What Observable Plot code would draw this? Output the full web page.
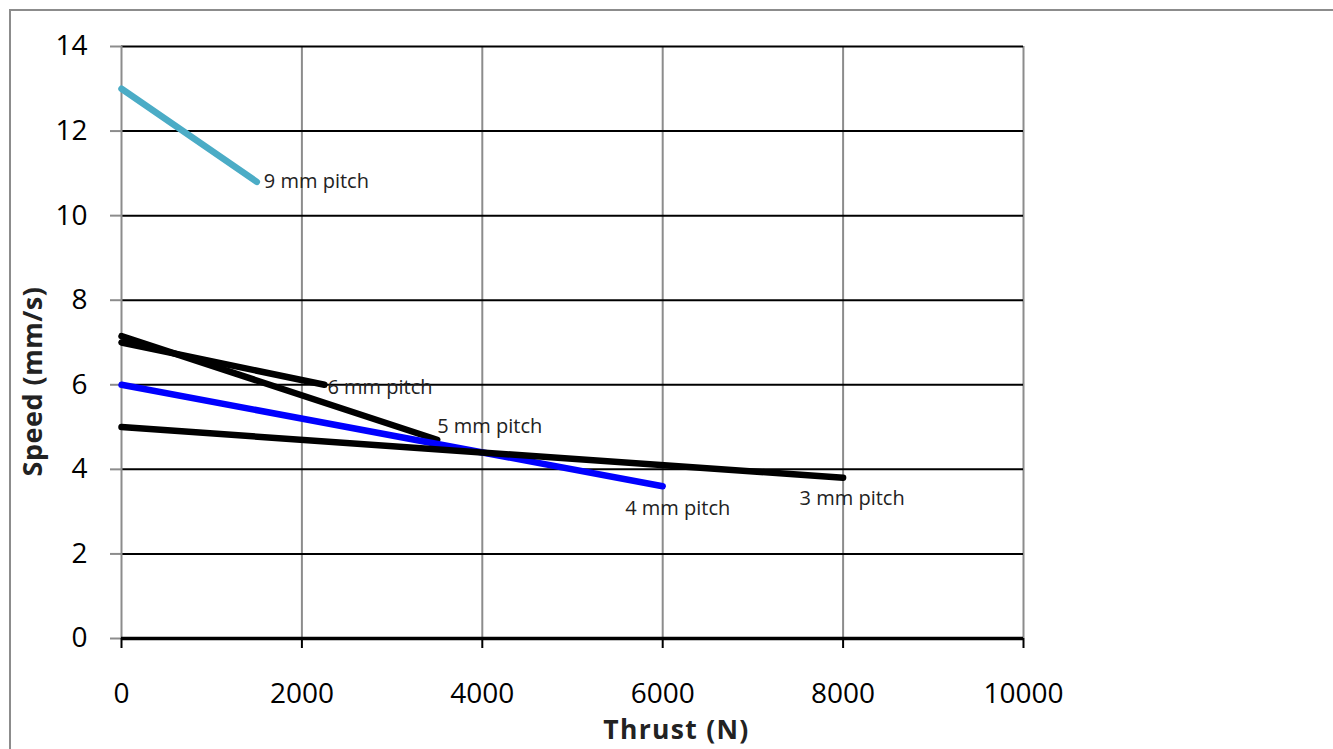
<!DOCTYPE html>
<html>
<head>
<meta charset="utf-8">
<script src="https://cdn.jsdelivr.net/npm/d3@7"></script>
<script src="https://cdn.jsdelivr.net/npm/@observablehq/plot@0.6"></script>
<style>
  html, body { margin: 0; padding: 0; background: #fff; overflow: hidden; }
  #wrap { position: relative; width: 1333px; height: 749px; }
  #border { position: absolute; left: 9px; top: 9px; width: 1400px; height: 800px; border: 2px solid #8c8c8c; pointer-events: none; }
</style>
</head>
<body>
<div id="wrap"><div id="border"></div><div id="chart"></div></div>
<script>
// Data
const series = ["9 mm pitch", "6 mm pitch", "5 mm pitch", "4 mm pitch", "3 mm pitch"];
const startThrust = [0, 0, 0, 0, 0];
const startSpeed = [13.0, 7.0, 7.15, 6.0, 5.0];
const endThrust = [1500, 2250, 3500, 6000, 8000];
const endSpeed = [10.8, 6.0, 4.7, 3.6, 3.8];
const xTicks = [0, 2000, 4000, 6000, 8000, 10000];
const yTicks = [0, 2, 4, 6, 8, 10, 12, 14];
const xTitle = "Thrust (N)";
const yTitle = "Speed (mm/s)";

// Styles (not data)
const colors = ["#4bacc6", "#000000", "#000000", "#0000ff", "#000000"];
const labelStyle = [
  {dx: 7, dy: 0, anchor: "start"},
  {dx: 3, dy: 3, anchor: "start"},
  {dx: 0, dy: -13, anchor: "start"},
  {dx: 15, dy: 22, anchor: "middle"},
  {dx: 9, dy: 21, anchor: "middle"}
];

const pts = [];
series.forEach((s, i) => {
  pts.push({series: s, x: startThrust[i], y: startSpeed[i], i});
  pts.push({series: s, x: endThrust[i], y: endSpeed[i], i});
});
const ends = series.map((s, i) => ({series: s, x: endThrust[i], y: endSpeed[i], i}));

const font = "'Open Sans', 'DejaVu Sans', sans-serif";

const marks = [
  Plot.ruleX(xTicks.filter(d => d > 0), {stroke: "#8c8c8c", strokeWidth: 2}),
  Plot.ruleY(yTicks.filter(d => d > 0), {stroke: "#000", strokeWidth: 2}),
  Plot.ruleX([0], {stroke: "#8c8c8c", strokeWidth: 2}),
  Plot.ruleY([0], {stroke: "#000", strokeWidth: 3.5}),
  Plot.axisY({ticks: yTicks, tickSize: 11, tickPadding: 23, stroke: "#8c8c8c", strokeWidth: 2, fontSize: 28, fill: "#000", label: null, tickFormat: d => String(d)}),
  Plot.axisX({ticks: xTicks, tickSize: 10, tickPadding: 35, stroke: "#000", strokeWidth: 2, fontSize: 28, fill: "#000", label: null, tickFormat: d => String(d)}),
];
series.forEach((s, i) => {
  marks.push(Plot.line(pts.filter(p => p.i === i), {x: "x", y: "y", stroke: colors[i], strokeWidth: 6.5, strokeLinecap: "round"}));
});
ends.forEach((e, i) => {
  const st = labelStyle[i];
  marks.push(Plot.text([e], {x: "x", y: "y", text: "series", dx: st.dx, dy: st.dy, textAnchor: st.anchor, fontSize: 20, fill: "#222"}));
});
marks.push(Plot.text([xTitle], {frameAnchor: "bottom", lineAnchor: "middle", textAnchor: "middle", dx: 104, dy: 92, text: d => d, fontSize: 26.5, fontWeight: "bold", fill: "#222"}));
marks.push(Plot.text([yTitle], {frameAnchor: "left", lineAnchor: "middle", textAnchor: "middle", dx: -88, dy: 39, rotate: -90, text: d => d, fontSize: 27, fontWeight: "bold", fill: "#222"}));

const chart = Plot.plot({
  width: 1333,
  height: 749,
  marginLeft: 121,
  marginRight: 310,
  marginTop: 46,
  marginBottom: 111,
  style: {fontFamily: font, background: "transparent", overflow: "visible"},
  x: {domain: [0, 10000]},
  y: {domain: [0, 14]},
  marks
});
chart.querySelectorAll("text").forEach(t => {
  if (t.textContent === xTitle) t.style.letterSpacing = "1.3px";
  if (t.textContent === yTitle) t.style.letterSpacing = "0.5px";
});
document.getElementById("chart").appendChild(chart);
</script>
</body>
</html>
